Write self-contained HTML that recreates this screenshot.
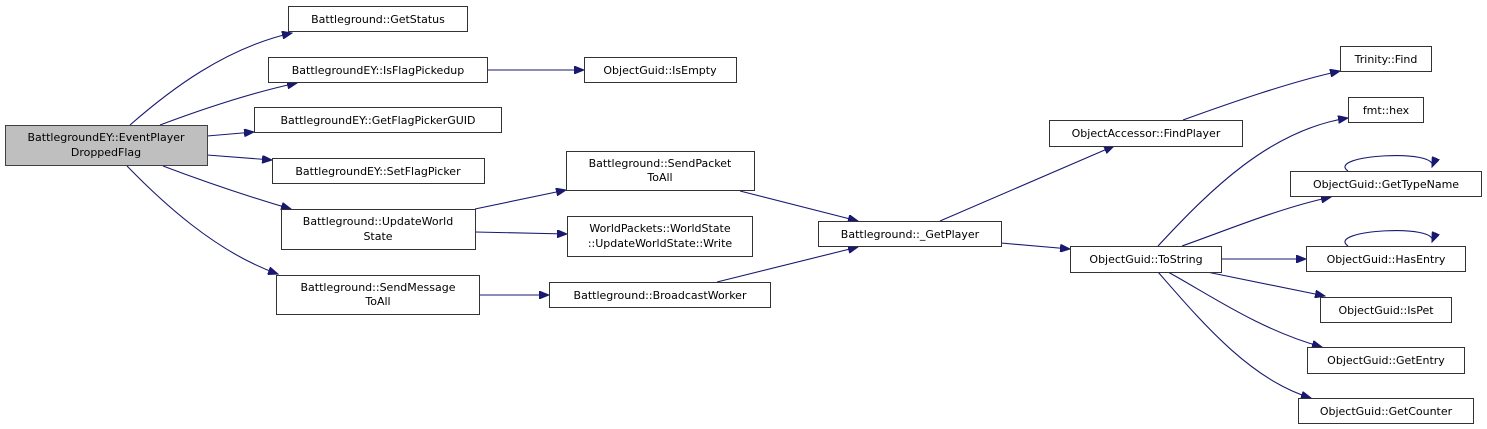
<!DOCTYPE html>
<html><head><meta charset="utf-8"><style>
html,body{margin:0;padding:0;background:#fff;}
svg{display:block;}
text{font-family:"DejaVu Sans","Liberation Sans",sans-serif;font-size:11px;fill:#000;}
</style></head><body>
<svg width="1487" height="429" viewBox="0 0 1487 429" xmlns="http://www.w3.org/2000/svg">
<defs>
<marker id="a" markerWidth="11" markerHeight="8" refX="10" refY="4" orient="auto" markerUnits="userSpaceOnUse">
<path d="M0,0 L10,4 L0,8 Z" fill="#191970" stroke="#191970"/>
</marker>
</defs>
<g fill="none" stroke="#191970" stroke-width="1.1" marker-end="url(#a)">
<path d="M130,125 C170,90 225,48 292,33"/>
<path d="M160,125 C200,110 250,93 297,83"/>
<path d="M207,136 L254,132"/>
<path d="M207,155 L272,160"/>
<path d="M163,166 C200,180 250,197 291,209"/>
<path d="M127,166 C160,200 215,252 278,274"/>
<path d="M487,70 L584,70"/>
<path d="M475,209 L566,190"/>
<path d="M475,232 L567,234"/>
<path d="M479,295 L549,295"/>
<path d="M740,191 L858,221"/>
<path d="M717,282 L858,247"/>
<path d="M940,221 L1114,146"/>
<path d="M1001,243 L1070,249"/>
<path d="M1183,120 C1230,103 1290,82 1340,71"/>
<path d="M1158,246 C1210,190 1270,130 1348,118"/>
<path d="M1182,246 C1230,229 1280,208 1331,197"/>
<path d="M1221,259 L1306,259"/>
<path d="M1207,272 L1325,296"/>
<path d="M1168,272 C1210,295 1260,330 1322,347"/>
<path d="M1158,272 C1200,320 1250,380 1311,398"/>
<path d="M1348,171 C1325,155 1440,148 1432,167"/>
<path d="M1348,246 C1325,230 1440,223 1432,242"/>
</g>
<g stroke-width="1">
<rect x="5.5" y="125.5" width="202" height="40" fill="#bfbfbf" stroke="#404040"/>
<g fill="#fff" stroke="#333">
<rect x="288.5" y="6.5" width="179" height="25"/>
<rect x="268.5" y="57.5" width="219" height="25"/>
<rect x="254.5" y="107.5" width="247" height="25"/>
<rect x="272.5" y="158.5" width="212" height="25"/>
<rect x="281.5" y="209.5" width="194" height="40"/>
<rect x="276.5" y="275.5" width="203" height="39"/>
<rect x="584.5" y="57.5" width="152" height="25"/>
<rect x="566.5" y="151.5" width="188" height="39"/>
<rect x="567.5" y="216.5" width="185" height="40"/>
<rect x="549.5" y="282.5" width="221" height="25"/>
<rect x="818.5" y="221.5" width="183" height="25"/>
<rect x="1049.5" y="120.5" width="193" height="26"/>
<rect x="1070.5" y="246.5" width="151" height="26"/>
<rect x="1340.5" y="46.5" width="91" height="25"/>
<rect x="1348.5" y="97.5" width="75" height="25"/>
<rect x="1290.5" y="171.5" width="191" height="25"/>
<rect x="1306.5" y="246.5" width="159" height="25"/>
<rect x="1320.5" y="297.5" width="131" height="25"/>
<rect x="1307.5" y="347.5" width="157" height="26"/>
<rect x="1298.5" y="398.5" width="175" height="25"/>
</g></g>
<g text-anchor="middle">
<text x="106" y="141">BattlegroundEY::EventPlayer</text>
<text x="106" y="156">DroppedFlag</text>
<text x="378" y="23">Battleground::GetStatus</text>
<text x="378" y="74">BattlegroundEY::IsFlagPickedup</text>
<text x="378" y="124">BattlegroundEY::GetFlagPickerGUID</text>
<text x="378" y="175">BattlegroundEY::SetFlagPicker</text>
<text x="378" y="225">Battleground::UpdateWorld</text>
<text x="378" y="240">State</text>
<text x="378" y="291">Battleground::SendMessage</text>
<text x="378" y="305">ToAll</text>
<text x="660" y="74">ObjectGuid::IsEmpty</text>
<text x="660" y="167">Battleground::SendPacket</text>
<text x="660" y="181">ToAll</text>
<text x="660" y="232">WorldPackets::WorldState</text>
<text x="660" y="247">::UpdateWorldState::Write</text>
<text x="660" y="299">Battleground::BroadcastWorker</text>
<text x="910" y="238">Battleground::_GetPlayer</text>
<text x="1146" y="137">ObjectAccessor::FindPlayer</text>
<text x="1146" y="263">ObjectGuid::ToString</text>
<text x="1386" y="63">Trinity::Find</text>
<text x="1386" y="114">fmt::hex</text>
<text x="1386" y="188">ObjectGuid::GetTypeName</text>
<text x="1386" y="263">ObjectGuid::HasEntry</text>
<text x="1386" y="314">ObjectGuid::IsPet</text>
<text x="1386" y="364">ObjectGuid::GetEntry</text>
<text x="1386" y="415">ObjectGuid::GetCounter</text>
</g>
</svg>
</body></html>
